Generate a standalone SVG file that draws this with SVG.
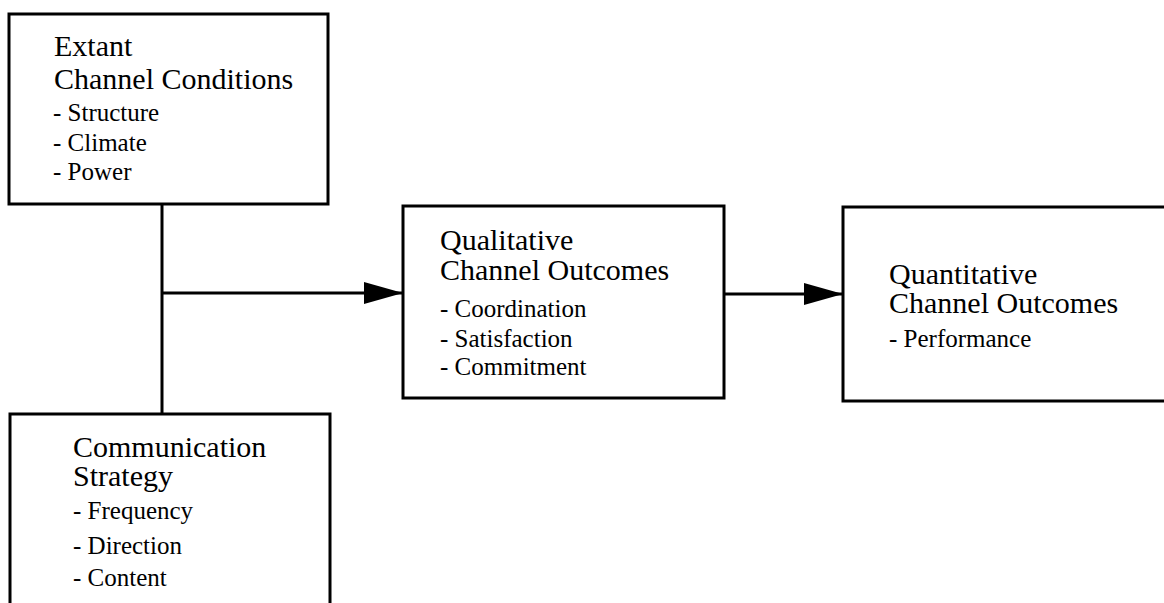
<svg xmlns="http://www.w3.org/2000/svg" width="1164" height="603" viewBox="0 0 1164 603">
  <style>
    .box { fill: #ffffff; stroke: #000000; stroke-width: 3; }
    .link { fill: none; stroke: #000000; stroke-width: 3; }
    .head { font-family: "Liberation Serif", "Times New Roman", serif; font-size: 30px; fill: #000000; }
    .item { font-family: "Liberation Serif", "Times New Roman", serif; font-size: 25px; fill: #000000; }
  </style>
  <defs>
    <marker id="arrow" markerUnits="userSpaceOnUse" markerWidth="40" markerHeight="24" refX="39" refY="12" orient="auto">
      <path d="M0,1 L39,12 L0,23 Z" fill="#000000"/>
    </marker>
  </defs>
  <rect width="1164" height="603" fill="#ffffff"/>

  <!-- connectors -->
  <g id="connectors">
    <line class="link" x1="162" y1="204" x2="162" y2="414"/>
    <line class="link" x1="162" y1="293" x2="403" y2="293" marker-end="url(#arrow)"/>
    <line class="link" x1="724" y1="294" x2="843" y2="294" marker-end="url(#arrow)"/>
  </g>

  <!-- extant channel conditions -->
  <g id="extant-conditions">
    <rect class="box" x="9" y="14" width="319" height="190"/>
    <text class="head" x="54" y="56">Extant</text>
    <text class="head" x="54" y="89">Channel Conditions</text>
    <text class="item" x="53" y="121">- Structure</text>
    <text class="item" x="53" y="151">- Climate</text>
    <text class="item" x="53" y="180">- Power</text>
  </g>

  <!-- qualitative channel outcomes -->
  <g id="qualitative-outcomes">
    <rect class="box" x="403" y="206" width="321" height="192"/>
    <text class="head" x="440" y="250">Qualitative</text>
    <text class="head" x="440" y="280">Channel Outcomes</text>
    <text class="item" x="440" y="317">- Coordination</text>
    <text class="item" x="440" y="347">- Satisfaction</text>
    <text class="item" x="440" y="375">- Commitment</text>
  </g>

  <!-- quantitative channel outcomes -->
  <g id="quantitative-outcomes">
    <rect class="box" x="843" y="207" width="330" height="194"/>
    <text class="head" x="889" y="284">Quantitative</text>
    <text class="head" x="889" y="313">Channel Outcomes</text>
    <text class="item" x="889" y="347">- Performance</text>
  </g>

  <!-- communication strategy -->
  <g id="communication-strategy">
    <rect class="box" x="10" y="414" width="320" height="200"/>
    <text class="head" x="73" y="457">Communication</text>
    <text class="head" x="73" y="486">Strategy</text>
    <text class="item" x="73" y="519">- Frequency</text>
    <text class="item" x="73" y="554">- Direction</text>
    <text class="item" x="73" y="586">- Content</text>
  </g>
</svg>
